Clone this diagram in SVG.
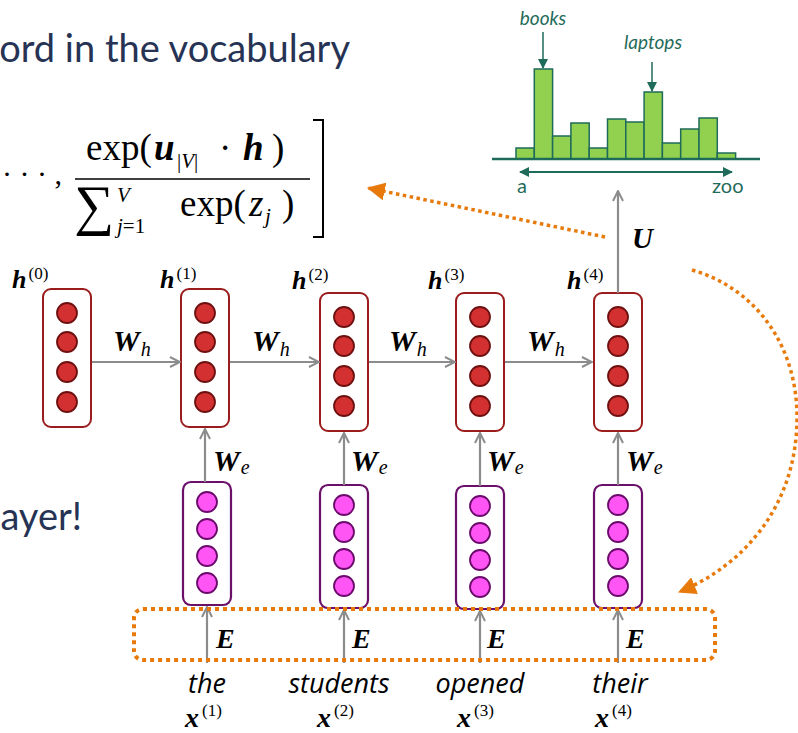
<svg xmlns="http://www.w3.org/2000/svg" width="798" height="733" viewBox="0 0 798 733">
<style>
.prose{font-family:Lato,"Open Sans",sans-serif;font-size:38px;fill:#263354}
.m{font-family:"Liberation Serif","DejaVu Serif",serif;fill:#000}
.mb{font-family:"Liberation Serif","DejaVu Serif",serif;font-weight:bold;font-style:italic;fill:#000}
.sup{font-family:"Liberation Serif","DejaVu Serif",serif;font-size:17px;fill:#000;font-weight:normal;font-style:normal}
.sub{font-family:"Liberation Serif","DejaVu Serif",serif;font-size:20px;fill:#000;font-weight:normal;font-style:italic}
.word{font-family:"Open Sans",Lato,sans-serif;font-style:italic;font-size:27px;fill:#000;text-anchor:middle}
.hbox{fill:#fff;stroke:#9B1C1C;stroke-width:2}
.hc{fill:#D33131;stroke:#6E1010;stroke-width:1.8}
.ebox{fill:#fff;stroke:#6A0F6A;stroke-width:2.2}
.ec{fill:#FF55F5;stroke:#6A0A6A;stroke-width:1.8}
.arr{stroke:#8C8C8C;stroke-width:2.2;fill:none;marker-end:url(#gh)}
.bar{fill:#92D050;stroke:#1F6B5A;stroke-width:1.5}
.teal{font-family:Lato,"Open Sans",sans-serif;fill:#1F6B5A}
.dot{fill:none;stroke:#E87A0C;stroke-linecap:butt}
</style>
<defs>
<marker id="gh" viewBox="0 0 12 12" refX="11" refY="6" markerWidth="12" markerHeight="12" markerUnits="userSpaceOnUse" orient="auto">
<path d="M1,1 L11,6 L1,11" fill="none" stroke="#8C8C8C" stroke-width="2"/>
</marker>
<marker id="th" viewBox="0 0 10 10" refX="9" refY="5" markerWidth="10" markerHeight="10" markerUnits="userSpaceOnUse" orient="auto">
<path d="M0,0 L10,5 L0,10 Z" fill="#1F6B5A"/>
</marker>
<marker id="oh" viewBox="0 0 16 16" refX="15" refY="8" markerWidth="18" markerHeight="18" markerUnits="userSpaceOnUse" orient="auto">
<path d="M0,0 L16,8 L0,16 Z" fill="#E87A0C"/>
</marker>
<g id="hcol">
<rect class="hbox" x="-24" y="0" width="48" height="138" rx="8"/>
<circle class="hc" cx="0" cy="24" r="10"/>
<circle class="hc" cx="0" cy="53" r="10"/>
<circle class="hc" cx="0" cy="83" r="10"/>
<circle class="hc" cx="0" cy="113" r="10"/>
</g>
<g id="ecol">
<rect class="ebox" x="-24" y="0" width="48" height="123" rx="8"/>
<circle class="ec" cx="0" cy="20" r="10"/>
<circle class="ec" cx="0" cy="47" r="10"/>
<circle class="ec" cx="0" cy="74" r="10"/>
<circle class="ec" cx="0" cy="101" r="10"/>
</g>
</defs>
<rect width="798" height="733" fill="#fff"/>

<!-- prose -->
<text class="prose" x="350" y="62" text-anchor="end">ord in the vocabulary</text>
<text class="prose" x="82" y="530" text-anchor="end">ayer!</text>

<!-- formula -->
<g id="formula">
<text class="m" x="2" y="184" font-size="30">· · · ,</text>
<text class="m" x="86" y="160" font-size="37">exp(</text>
<text class="mb" x="154" y="160" font-size="37">u</text>
<text class="m" x="177" y="168" font-size="21">|<tspan font-style="italic">V</tspan>|</text>
<text class="m" x="219" y="160" font-size="37">·</text>
<text class="mb" x="243" y="160" font-size="37">h</text>
<text class="m" x="272" y="160" font-size="37">)</text>
<line x1="75" y1="179" x2="310" y2="179" stroke="#000" stroke-width="1.6"/>
<text x="74" y="224" font-size="56" class="m">∑</text>
<text x="117" y="202" font-size="21" class="m" font-style="italic">V</text>
<text x="117" y="233" font-size="21" class="m"><tspan font-style="italic">j</tspan>=1</text>
<text x="180" y="216" font-size="37" class="m">exp(</text>
<text x="249" y="216" font-size="37" class="m" font-style="italic">z</text>
<text x="265" y="223" font-size="21" class="m" font-style="italic">j</text>
<text x="282" y="216" font-size="37" class="m">)</text>
<path d="M313,120 H323 V237 H313" fill="none" stroke="#000" stroke-width="2"/>
</g>

<!-- histogram -->
<g id="histogram">
<rect class="bar" x="516" y="148" width="18.3" height="11"/>
<rect class="bar" x="534.3" y="69" width="18.3" height="90"/>
<rect class="bar" x="552.6" y="136" width="18.3" height="23"/>
<rect class="bar" x="570.9" y="123" width="18.3" height="36"/>
<rect class="bar" x="589.2" y="148" width="18.3" height="11"/>
<rect class="bar" x="607.5" y="119" width="18.3" height="40"/>
<rect class="bar" x="625.8" y="122" width="18.3" height="37"/>
<rect class="bar" x="644.1" y="92" width="18.3" height="67"/>
<rect class="bar" x="662.4" y="143" width="18.3" height="16"/>
<rect class="bar" x="680.7" y="129" width="18.3" height="30"/>
<rect class="bar" x="699" y="118" width="18.3" height="41"/>
<rect class="bar" x="717.3" y="153" width="18.3" height="6"/>
<line x1="492" y1="159" x2="760" y2="159" stroke="#1F6B5A" stroke-width="2.5"/>
<line x1="520" y1="172" x2="732" y2="172" stroke="#1F6B5A" stroke-width="2" marker-end="url(#th)"/>
<line x1="732" y1="172" x2="520" y2="172" stroke="#1F6B5A" stroke-width="2" marker-end="url(#th)"/>
<text class="teal" x="517" y="193" font-size="20">a</text>
<text class="teal" x="712" y="193" font-size="20">zoo</text>
<text class="teal" x="543" y="25" font-size="19" font-style="italic" text-anchor="middle">books</text>
<line x1="543" y1="32" x2="543" y2="68" stroke="#1F6B5A" stroke-width="1.5" marker-end="url(#th)"/>
<text class="teal" x="653" y="49" font-size="19" font-style="italic" text-anchor="middle">laptops</text>
<line x1="652" y1="62" x2="652" y2="91" stroke="#1F6B5A" stroke-width="1.5" marker-end="url(#th)"/>
</g>

<!-- hidden nodes -->
<g id="h0"><use href="#hcol" x="67" y="289"/><text class="mb" x="12" y="288" font-size="26">h<tspan class="sup" dx="2" dy="-9">(0)</tspan></text></g>
<g id="h1"><use href="#hcol" x="205" y="289"/><text class="mb" x="160" y="288" font-size="26">h<tspan class="sup" dx="2" dy="-9">(1)</tspan></text></g>
<g id="h2"><use href="#hcol" x="344" y="293"/><text class="mb" x="292" y="289" font-size="26">h<tspan class="sup" dx="2" dy="-9">(2)</tspan></text></g>
<g id="h3"><use href="#hcol" x="480" y="293"/><text class="mb" x="428" y="289" font-size="26">h<tspan class="sup" dx="2" dy="-9">(3)</tspan></text></g>
<g id="h4"><use href="#hcol" x="618" y="293"/><text class="mb" x="567" y="289" font-size="26">h<tspan class="sup" dx="2" dy="-9">(4)</tspan></text></g>

<!-- embedding nodes -->
<g id="e1"><use href="#ecol" x="207" y="482"/></g>
<g id="e2"><use href="#ecol" x="344" y="485"/></g>
<g id="e3"><use href="#ecol" x="480" y="486"/></g>
<g id="e4"><use href="#ecol" x="618" y="485"/></g>

<!-- words -->
<g id="words">
<text class="word" x="207" y="693">the</text>
<text class="word" x="339" y="693">students</text>
<text class="word" x="480" y="693">opened</text>
<text class="word" x="620" y="693">their</text>
<text class="mb" x="185" y="727" font-size="28">x<tspan class="sup" dx="3" dy="-11">(1)</tspan></text>
<text class="mb" x="317" y="727" font-size="28">x<tspan class="sup" dx="3" dy="-11">(2)</tspan></text>
<text class="mb" x="457" y="727" font-size="28">x<tspan class="sup" dx="3" dy="-11">(3)</tspan></text>
<text class="mb" x="595" y="727" font-size="28">x<tspan class="sup" dx="3" dy="-11">(4)</tspan></text>
</g>

<!-- connectors -->
<g id="connectors">
<line class="arr" x1="92" y1="362" x2="180" y2="362"/>
<line class="arr" x1="230" y1="362" x2="319" y2="362"/>
<line class="arr" x1="369" y1="362" x2="455" y2="362"/>
<line class="arr" x1="505" y1="362" x2="592" y2="362"/>
<line class="arr" x1="205" y1="482" x2="205" y2="429"/>
<line class="arr" x1="344" y1="485" x2="344" y2="433"/>
<line class="arr" x1="480" y1="486" x2="480" y2="433"/>
<line class="arr" x1="618" y1="485" x2="618" y2="433"/>
<line class="arr" x1="207" y1="663" x2="207" y2="607"/>
<line class="arr" x1="344" y1="663" x2="344" y2="610"/>
<line class="arr" x1="480" y1="663" x2="480" y2="611"/>
<line class="arr" x1="618" y1="663" x2="618" y2="610"/>
<line class="arr" x1="618" y1="293" x2="618" y2="191"/>

<g class="mb" font-size="30">
<text x="113" y="351">W<tspan class="sub" dx="1" dy="5">h</tspan></text>
<text x="252" y="351">W<tspan class="sub" dx="1" dy="5">h</tspan></text>
<text x="389" y="351">W<tspan class="sub" dx="1" dy="5">h</tspan></text>
<text x="527" y="351">W<tspan class="sub" dx="1" dy="5">h</tspan></text>
<text x="213" y="471">W<tspan class="sub" dx="1" dy="3">e</tspan></text>
<text x="351" y="471">W<tspan class="sub" dx="1" dy="3">e</tspan></text>
<text x="487" y="471">W<tspan class="sub" dx="1" dy="3">e</tspan></text>
<text x="626" y="471">W<tspan class="sub" dx="1" dy="3">e</tspan></text>
</g>
<g class="mb" font-size="28">
<text x="216" y="648">E</text><text x="352" y="648">E</text><text x="487" y="648">E</text><text x="626" y="648">E</text>
</g>
<text class="mb" x="632" y="248" font-size="29">U</text>

<rect class="dot" x="134" y="609" width="581" height="51" rx="9" stroke-width="4" stroke-dasharray="4 4"/>
<path class="dot" d="M605,237 L368,188" stroke-width="3.5" stroke-dasharray="3.5 3.5" marker-end="url(#oh)"/>
<path class="dot" d="M692,270 C755,288 798,345 797,420 C796,505 745,565 679,592" stroke-width="3.5" stroke-dasharray="3.5 3.5" marker-end="url(#oh)"/>
</g>
</svg>
